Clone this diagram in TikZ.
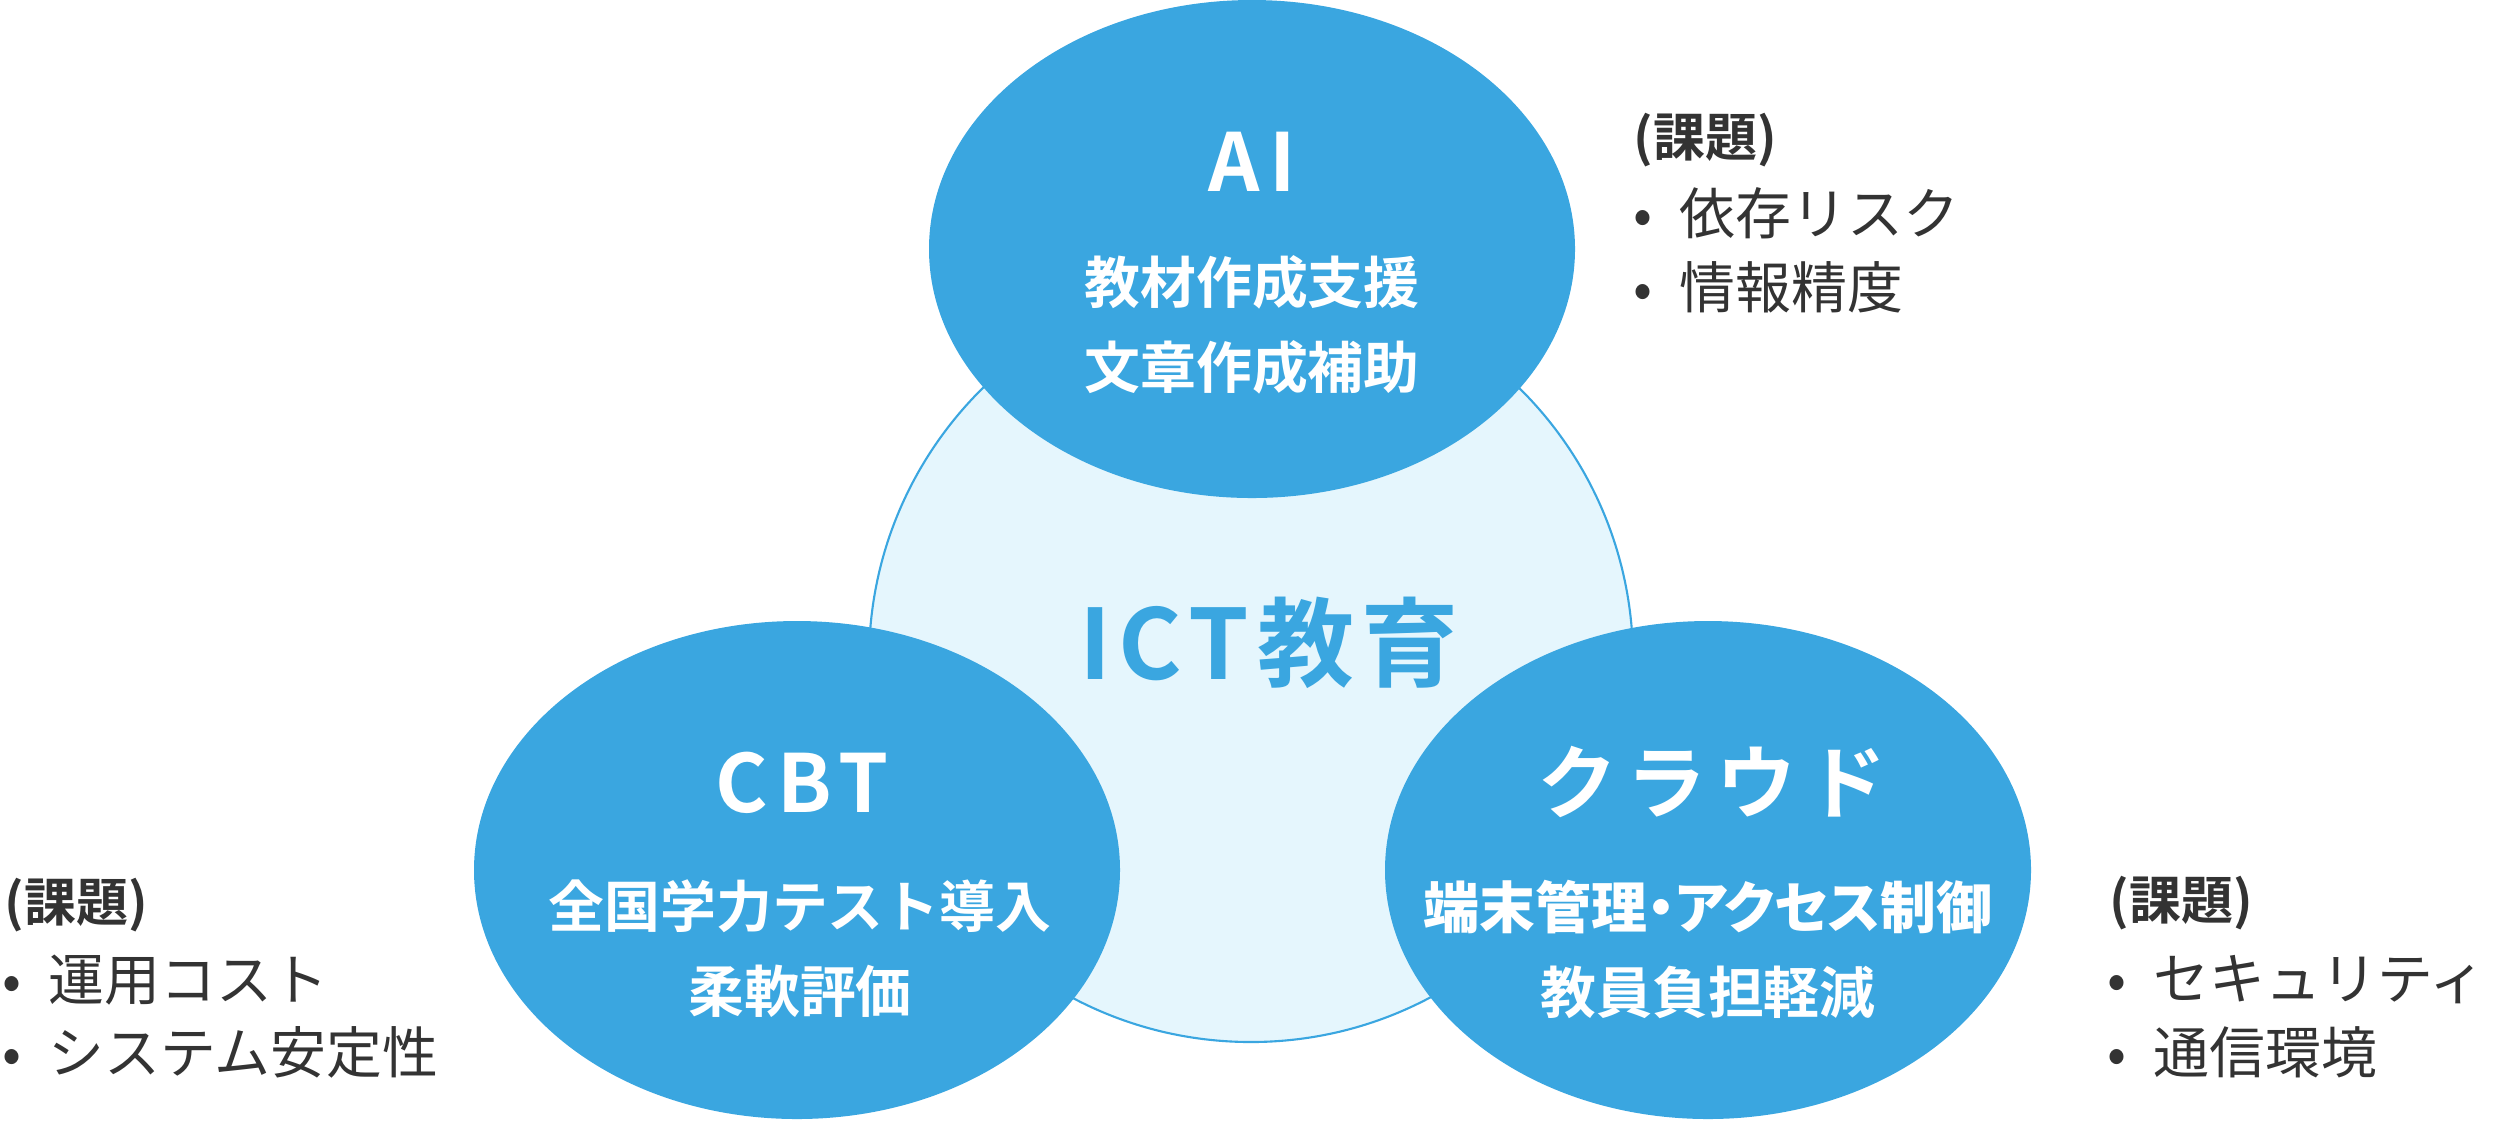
\documentclass[tikz,border=0pt]{standalone}
\usepackage{fontspec}
\setmainfont{Noto Sans CJK JP}[BoldFont={Noto Sans CJK JP Bold}]
\newfontfamily\titlefont{Noto Sans CJK JP Bold}[LetterSpace=12]
\newfontfamily\ictfont{Noto Sans CJK JP Bold}[LetterSpace=8]
\newfontfamily\paltfont{Noto Sans CJK JP Bold}[RawFeature=+palt]
\definecolor{ictblue}{HTML}{3AA6E0}
\definecolor{ictpale}{HTML}{E5F6FD}
\definecolor{ictdark}{HTML}{333333}
\usetikzlibrary{shapes.geometric}
\newcommand{\kbul}{\makebox[0.82em][l]{•}}

\begin{document}
\begin{tikzpicture}[
    bubble/.style={ellipse, fill=ictblue, minimum width=6.46cm, minimum height=4.98cm, inner sep=0pt},
    title/.style={text=white, inner sep=0pt, font=\titlefont\fontsize{22.8pt}{26pt}\selectfont},
    body/.style={text=white, inner sep=0pt, align=center, font=\bfseries\fontsize{15.9pt}{24.2pt}\selectfont},
    kadaihead/.style={anchor=west, inner sep=0pt, text=ictdark, font=\bfseries\fontsize{14.8pt}{18pt}\selectfont},
    kadai/.style={anchor=west, inner sep=0pt, text=ictdark, align=left, font=\fontsize{15.9pt}{21pt}\selectfont}
  ]
      \useasboundingbox (0,0) rectangle (24.97,-11.33);

      % Centre circle
      \node[circle, fill=ictpale, draw=ictblue, line width=0.6pt, minimum size=7.64cm, inner sep=0pt] (ict) at (12.51,-6.60) {};
      \node[text=ictblue, inner sep=0pt, font=\ictfont\fontsize{27.6pt}{30pt}\selectfont] (icttext) at (12.69,-6.43) {ICT\hspace{0.08em}教育};

      % AI
      \node[bubble] (ai) at (12.52,-2.49) {};
      \node[title] (aititle) at (12.52,-1.62) {AI};
      \node[body] (aibody) at (12.52,-3.245) {教材作成支援\\文章作成補助};

      % CBT
      \node[bubble] (cbt) at (7.97,-8.70) {};
      \node[title] (cbttitle) at (8.02,-7.83) {CBT};
      \node[body] (cbtbody) at (8.00,-9.49) {全国学力テスト導入\\柔軟評価};

      % Cloud
      \node[bubble] (cloud) at (17.08,-8.70) {};
      \node[title] (cloudtitle) at (17.12,-7.82) {クラウド};
      \node[body] (cloudbody) at (17.08,-9.495) {{\paltfont 端末管理・アクセス制御}\\教員負担軽減};

      % Issues
      \node[kadaihead] (aihead) at (16.33,-1.40) {(課題)};
      \node[kadai] (aiissue) at (16.33,-2.50) {\kbul 依存リスク\\\kbul 情報精度};
      \node[kadaihead] (cbthead) at (0.04,-9.05) {(課題)};
      \node[kadai] (cbtissue) at (0.02,-10.165) {\kbul 運用コスト\\\kbul システム安定性};
      \node[kadaihead] (cloudhead) at (21.09,-9.03) {(課題)};
      \node[kadai] (cloudissue) at (21.07,-10.165) {\kbul セキュリティ\\\kbul 通信環境};
    \end{tikzpicture}
\end{document}
